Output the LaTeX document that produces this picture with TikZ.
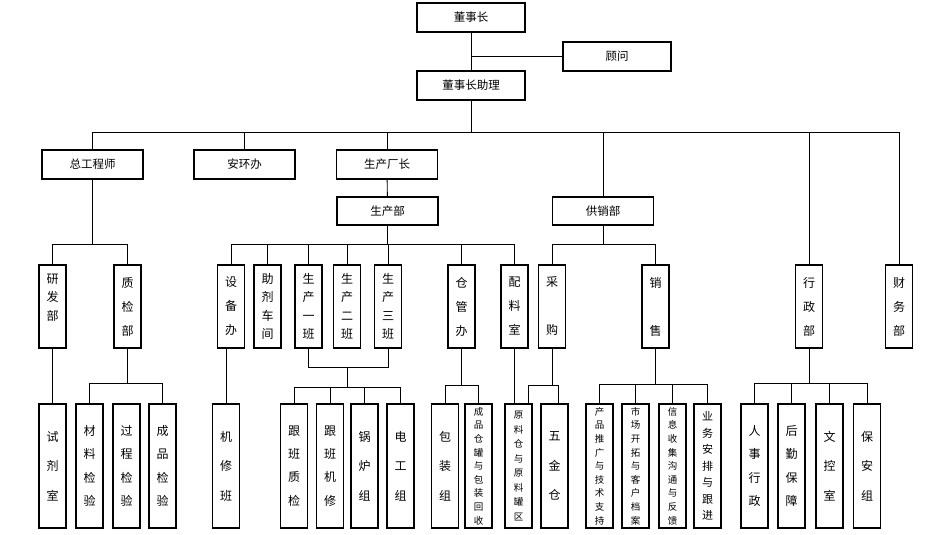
\documentclass[tikz,border=0pt]{standalone}
\usepackage{fontspec}
\setmainfont{Noto Sans CJK SC}
\tikzset{
	box/.style={draw, line width=1.1pt, inner sep=1pt, align=center},
	topbox/.style={box, minimum width=101pt, minimum height=29pt, font=\fontsize{11.5}{14}\selectfont},
	midbox/.style={box, minimum width=27pt, minimum height=83pt},
	lowbox/.style={box, minimum width=27pt, minimum height=124pt},
	midthree/.style={midbox, font=\fontsize{12}{24}\selectfont},
	midfour/.style={midbox, font=\fontsize{12}{18.5}\selectfont},
	lowthree/.style={lowbox, font=\fontsize{12}{29.5}\selectfont},
	lowfour/.style={lowbox, font=\fontsize{12}{23.3}\selectfont},
	lowseven/.style={lowbox, font=\fontsize{11}{16.5}\selectfont},
	lownine/.style={lowbox, font=\fontsize{9.5}{13.6}\selectfont},
	link/.style={line width=0.9pt}
}

\begin{document}
\begin{tikzpicture}[x=1pt, y=-1pt]
	\useasboundingbox (0,0) rectangle (926,535);

	\node[topbox, minimum width=108pt] (dsz) at (471,17.5) {董事长};
	\node[topbox, minimum width=108pt] (gw) at (617,56.5) {顾问};
	\node[topbox, minimum width=108pt] (dszl) at (471,85.5) {董事长助理};

	\node[topbox] (zgcs) at (92.5,164.5) {总工程师};
	\node[topbox] (ahb) at (244.5,164.5) {安环办};
	\node[topbox] (scc) at (387,164.5) {生产厂长};
	\node[topbox, minimum height=28pt] (scb) at (387.5,211) {生产部};
	\node[topbox, minimum height=28pt] (gxb) at (603,211) {供销部};

	\node[midfour] (yfb) at (52.5,306.5) {研\\发\\部\\\mbox{}};
	\node[midthree] (zjb) at (127.5,306.5) {质\\检\\部};
	\node[midthree] (sbb) at (231,306.5) {设\\备\\办};
	\node[midfour] (zjcj) at (267.5,306.5) {助\\剂\\车\\间};
	\node[midfour] (sc1) at (308.5,306.5) {生\\产\\一\\班};
	\node[midfour] (sc2) at (347,306.5) {生\\产\\二\\班};
	\node[midfour] (sc3) at (388,306.5) {生\\产\\三\\班};
	\node[midthree] (cgb) at (461.5,306.5) {仓\\管\\办};
	\node[midthree] (pls) at (514.5,306.5) {配\\料\\室};
	\node[midthree] (cg) at (552,306.5) {采\\\mbox{}\\购};
	\node[midthree] (xs) at (655.5,306.5) {销\\\mbox{}\\售};
	\node[midthree] (xzb) at (809,306.5) {行\\政\\部};
	\node[midthree] (cwb) at (899,306.5) {财\\务\\部};

	\node[lowthree] (sjs) at (52.5,466) {试\\剂\\室};
	\node[lowfour] (cljy) at (89.5,466) {材\\料\\检\\验};
	\node[lowfour] (gcjy) at (126.5,466) {过\\程\\检\\验};
	\node[lowfour] (cpjy) at (162.5,466) {成\\品\\检\\验};
	\node[lowthree] (jxb) at (226,466) {机\\修\\班};
	\node[lowfour] (gbzj) at (294,466) {跟\\班\\质\\检};
	\node[lowfour] (gbjx) at (330,466) {跟\\班\\机\\修};
	\node[lowthree] (glz) at (364.5,466) {锅\\炉\\组};
	\node[lowthree] (dgz) at (400.5,466) {电\\工\\组};
	\node[lowthree] (bzz) at (445,466) {包\\装\\组};
	\node[lownine] (cpcg) at (478.5,466) {成\\品\\仓\\罐\\与\\包\\装\\回\\收};
	\node[lownine, font=\fontsize{9.5}{14.5}\selectfont] (ylc) at (518.5,466) {原\\料\\仓\\与\\原\\料\\罐\\区};
	\node[lowthree] (wjc) at (554.5,466) {五\\金\\仓};
	\node[lownine] (cptg) at (599.5,466) {产\\品\\推\\广\\与\\技\\术\\支\\持};
	\node[lownine] (sckt) at (635.5,466) {市\\场\\开\\拓\\与\\客\\户\\档\\案};
	\node[lownine] (xxsj) at (672.5,466) {信\\息\\收\\集\\沟\\通\\与\\反\\馈};
	\node[lowseven] (ywap) at (707.5,466) {业\\务\\安\\排\\与\\跟\\进};
	\node[lowfour] (rsxz) at (754.5,466) {人\\事\\行\\政};
	\node[lowfour] (hqbz) at (791.5,466) {后\\勤\\保\\障};
	\node[lowthree] (wks) at (829.5,466) {文\\控\\室};
	\node[lowthree] (baz) at (867,466) {保\\安\\组};

	\draw[link] (dsz) -- (dszl);
	\draw[link] (gw) -- (gw -| dsz);
	\draw[link] (dszl.south) -- ++(0,32) coordinate (busa);
	\draw[link] (zgcs.north) |- (busa) -| (cwb.north);
	\foreach \n in {ahb,scc,gxb,xzb}
		\draw[link] (\n.north) -- (\n.north |- busa);
	\draw[link] (scc) -- (scb);

	\draw[link] (zgcs.south) -- ++(0,65) coordinate (busc);
	\draw[link] (yfb.north) |- (busc) -| (zjb.north);
	\draw[link] (scb.south) -- ++(0,19) coordinate (busb);
	\draw[link] (sbb.north) |- (busb) -| (pls.north);
	\foreach \n in {zjcj,sc1,sc2,sc3,cgb}
		\draw[link] (\n.north) -- (\n.north |- busb);
	\draw[link] (gxb.south) -- ++(0,19) coordinate (busd);
	\draw[link] (cg.north) |- (busd) -| (xs.north);

	\draw[link] (yfb) -- (sjs);
	\draw[link] (zjb.south) -- ++(0,35) coordinate (buse);
	\draw[link] (cljy.north) |- (buse) -| (cpjy.north);
	\draw[link] (jxb.north) -- (jxb.north |- sbb.south);
	\draw[link] (sc1.south) -- ++(0,19) coordinate (busf) -| (sc3.south);
	\draw[link] (busf -| sc2.south) -- ++(0,20) coordinate (busg);
	\draw[link] (gbzj.north) |- (busg) -| (dgz.north);
	\foreach \n in {gbjx,glz}
		\draw[link] (\n.north) -- (\n.north |- busg);
	\draw[link] (cgb.south) -- ++(0,37) coordinate (bush);
	\draw[link] (bzz.north) |- (bush) -| (cpcg.north);
	\draw[link] (pls) -- (pls |- ylc.north);
	\draw[link] (cg.south) -- ++(0,37) coordinate (busi);
	\draw[link] ([xshift=-4pt]ylc.north east) |- (busi) -| ([xshift=4pt]wjc.north);
	\draw[link] (xs.south) -- ++(0,36) coordinate (busj);
	\draw[link] (cptg.north) |- (busj) -| (ywap.north);
	\foreach \n in {sckt,xxsj}
		\draw[link] (\n.north) -- (\n.north |- busj);
	\draw[link] (xzb.south) -- ++(0,35) coordinate (busk);
	\draw[link] (rsxz.north) |- (busk) -| (baz.north);
	\foreach \n in {hqbz,wks}
		\draw[link] (\n.north) -- (\n.north |- busk);
\end{tikzpicture}
\end{document}
